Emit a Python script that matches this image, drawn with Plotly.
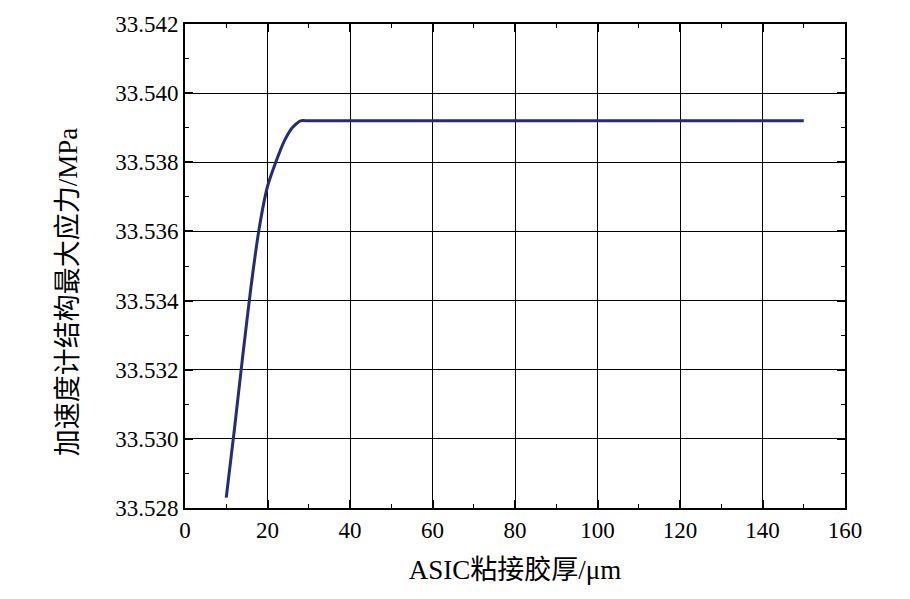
import plotly.graph_objects as go

thickness = [10, 12, 14, 16, 18, 20, 22, 24, 26, 28, 30, 40, 50, 60, 70, 80, 90, 100, 110, 120, 130, 140, 150]
stress = [33.5283, 33.5303, 33.5324, 33.5344, 33.5361, 33.5373, 33.5380, 33.5386, 33.5390, 33.5392, 33.5392,
          33.5392, 33.5392, 33.5392, 33.5392, 33.5392, 33.5392, 33.5392, 33.5392, 33.5392, 33.5392, 33.5392, 33.5392]

x_title = "ASIC粘接胶厚/μm"
y_title = "加速度计结构最大应力/MPa"

fig = go.Figure()
fig.add_trace(go.Scatter(x=thickness, y=stress, mode="lines",
                         line=dict(color="#232c78", width=3, shape="spline", smoothing=0.6),
                         showlegend=False))

font_family = "Liberation Serif, Noto Sans CJK SC"
axis_common = dict(showline=True, linecolor="black", linewidth=2, mirror="allticks",
                   ticks="inside", ticklen=8, tickwidth=2, tickcolor="black",
                   showgrid=True, gridcolor="black", gridwidth=1, zeroline=False,
                   tickfont=dict(family=font_family, size=23, color="black"))

fig.update_xaxes(range=[0, 160], dtick=20, tick0=0,
                 minor=dict(ticks="inside", ticklen=4, tickwidth=1, dtick=10, tickcolor="black", showgrid=False),
                 title=dict(text=x_title, font=dict(family=font_family, size=27, color="black"), standoff=19),
                 **axis_common)
fig.update_yaxes(range=[33.528, 33.542], dtick=0.002, tick0=33.528, tickformat=".3f",
                 minor=dict(ticks="inside", ticklen=4, tickwidth=1, dtick=0.001, tickcolor="black", showgrid=False),
                 **axis_common)

fig.add_annotation(text=y_title, textangle=-90, xref="paper", yref="paper",
                   x=-0.177, y=0.446, xanchor="center", yanchor="middle", showarrow=False,
                   font=dict(family=font_family, size=27, color="black"))

fig.update_layout(width=910, height=599, margin=dict(l=185, r=65, t=24, b=91),
                  plot_bgcolor="white", paper_bgcolor="white")

fig.write_html("out.html")
